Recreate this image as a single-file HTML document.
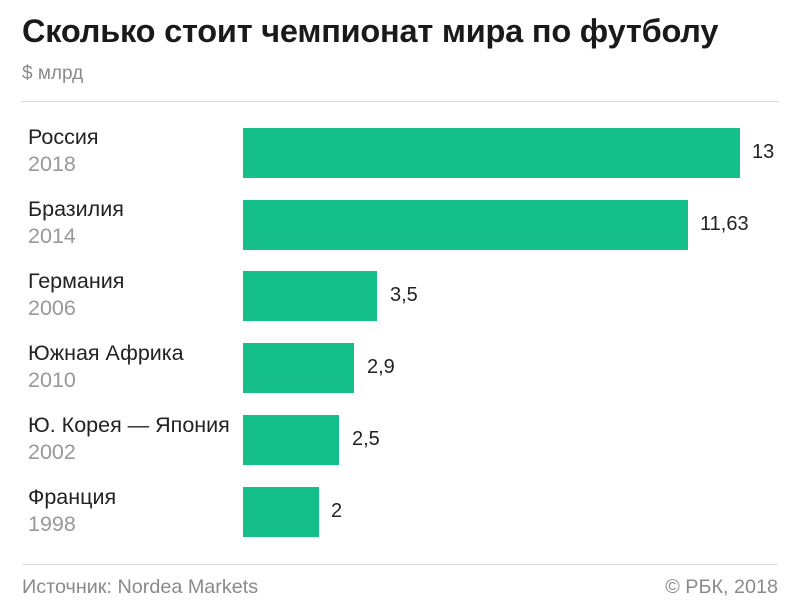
<!DOCTYPE html>
<html><head><meta charset="utf-8"><style>
body{margin:0;background:#fff;width:800px;height:611px;position:relative;overflow:hidden;font-family:"Liberation Sans","DejaVu Sans",sans-serif;}
.a{position:absolute;white-space:nowrap;}
.t{left:22px;top:13px;font-size:32.5px;font-weight:bold;color:#1a1a1a;letter-spacing:-0.2px;}
.u{left:22px;top:63px;font-size:19px;color:#8a8a8a;}
.ln{position:absolute;left:22px;width:756px;height:1px;background:#d8d8d8;}
.c{left:28px;font-size:21.5px;color:#222;}
.y{left:28px;font-size:21.5px;color:#999;}
.b{position:absolute;left:243px;height:50px;background:#14bf8a;}
.v{font-size:20px;color:#222;}
.f{top:576px;font-size:19.8px;color:#8a8a8a;}
</style></head><body>
<div class="a t">Сколько стоит чемпионат мира по футболу</div>
<div class="a u">$ млрд</div>
<div class="ln" style="top:101px"></div>
<div class="ln" style="top:564px"></div>

<div class="a c" style="top:125px">Россия</div><div class="a y" style="top:152px">2018</div>
<div class="b" style="top:128px;width:497px"></div><div class="a v" style="left:752px;top:141px">13</div>

<div class="a c" style="top:197px">Бразилия</div><div class="a y" style="top:224px">2014</div>
<div class="b" style="top:200px;width:445px"></div><div class="a v" style="left:700px;top:213px">11,63</div>

<div class="a c" style="top:269px">Германия</div><div class="a y" style="top:296px">2006</div>
<div class="b" style="top:271px;width:134px"></div><div class="a v" style="left:390px;top:284px">3,5</div>

<div class="a c" style="top:341px">Южная Африка</div><div class="a y" style="top:368px">2010</div>
<div class="b" style="top:343px;width:111px"></div><div class="a v" style="left:367px;top:356px">2,9</div>

<div class="a c" style="top:413px">Ю. Корея — Япония</div><div class="a y" style="top:440px">2002</div>
<div class="b" style="top:415px;width:96px"></div><div class="a v" style="left:352px;top:428px">2,5</div>

<div class="a c" style="top:485px">Франция</div><div class="a y" style="top:512px">1998</div>
<div class="b" style="top:487px;width:76px"></div><div class="a v" style="left:331px;top:500px">2</div>

<div class="a f" style="left:22px">Источник: Nordea Markets</div>
<div class="a f" style="right:22px">© РБК, 2018</div>
</body></html>
